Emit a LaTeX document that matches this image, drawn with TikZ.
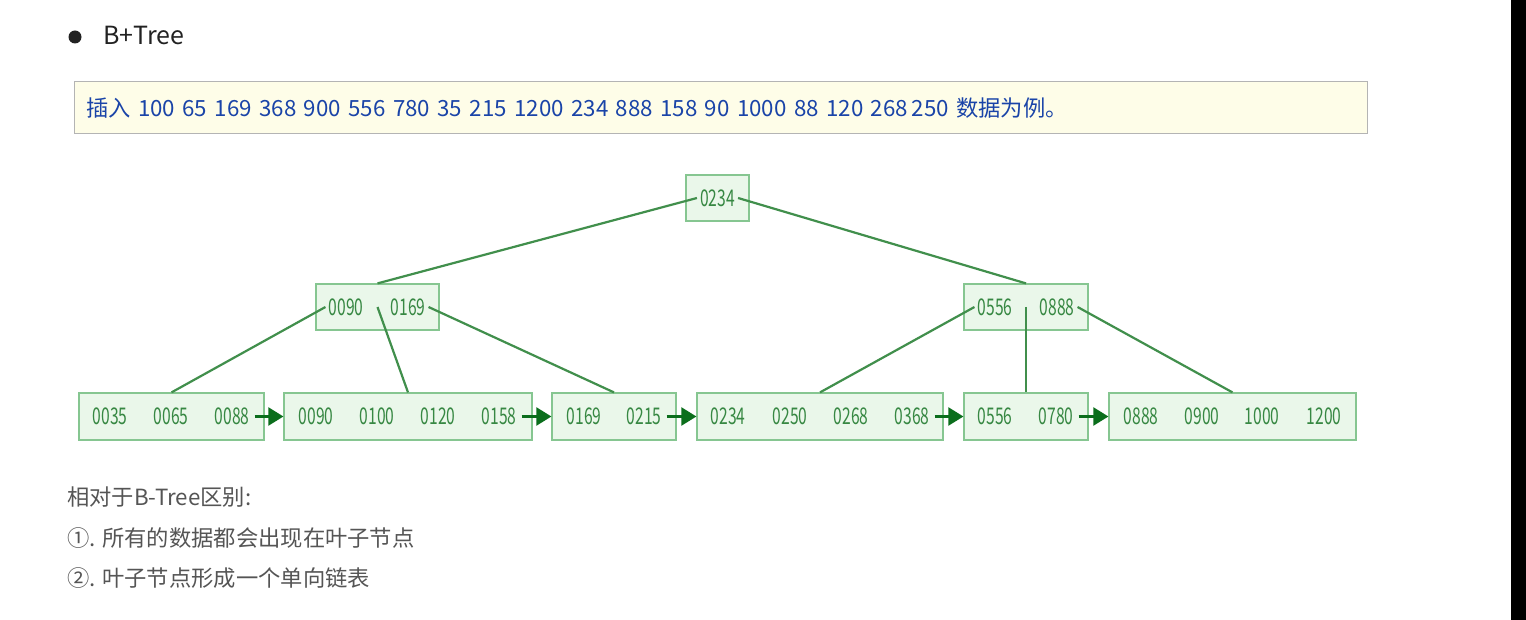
\documentclass[tikz,border=0pt]{standalone}
\usepackage{fontspec}
\setmainfont{Noto Sans CJK SC}
\newfontfamily\keyfont[FakeStretch=0.68]{Noto Sans CJK SC}
\usepackage{xcolor}
\usetikzlibrary{arrows.meta,positioning}
\definecolor{boxline}{HTML}{86C691}
\definecolor{boxfill}{HTML}{EAF7EA}
\definecolor{keygreen}{HTML}{378843}
\definecolor{edgegreen}{HTML}{418F4C}
\definecolor{linkgreen}{HTML}{0B6E1C}
\definecolor{notefill}{HTML}{FEFDE8}
\definecolor{noteline}{HTML}{B4B4B4}
\definecolor{noteblue}{HTML}{1A44A8}
\definecolor{remarkgray}{HTML}{555555}
\definecolor{titlegray}{HTML}{222222}
\tikzset{
    nodebox/.style={
        rectangle, draw=boxline, fill=boxfill, line width=1.2pt,
        minimum height=46pt, inner sep=0pt
    },
    keylabel/.style={
        font=\keyfont\fontsize{23}{23}\selectfont, text=keygreen, inner sep=3pt
    },
    notebox/.style={
        rectangle, draw=noteline, fill=notefill, line width=1pt,
        minimum height=52pt, text width=1269pt, inner xsep=12pt, align=left,
        font=\fontsize{22.3}{22.3}\selectfont, text=noteblue
    },
    remark/.style={
        anchor=west, inner sep=0pt, text=remarkgray,
        font=\fontsize{22.3}{22.3}\selectfont
    },
    treeline/.style={draw=edgegreen, line width=2.2pt},
    leaflink/.style={draw=linkgreen, line width=2.2pt, shorten <=2pt,
        -{Triangle[length=15pt,width=18pt]}}
}
\begin{document}
\begin{tikzpicture}[x=1pt,y=-1pt]
\useasboundingbox (0,0) rectangle (1526,620);
\fill[white] (0,0) rectangle (1526,620);
\fill[black] (1511,0) rectangle (1526,620);

% ---- heading ----
\node[circle, fill=titlegray, minimum size=13pt, inner sep=0pt] (dot) at (75,37) {};
\node[anchor=west, inner sep=0pt, text=titlegray,
      font=\fontsize{25}{25}\selectfont] (title) at (103,36) {B+Tree};

% ---- note ----
\node[notebox, anchor=north west] (note) at (73.5,81.5)
    {插入 100 65 169 368 900 556 780 35 215 1200 234 888 158 90 1000 88 120 268\,250 数据为例。};

% ---- root (y=198) ----
\node[nodebox, minimum width=63pt] (r) at (717.5,198) {};
\node[keylabel] (r1) at (717.5,198) {0234};

% ---- internal nodes (y=307) ----
\node[nodebox, minimum width=123pt] (i1) at (377.5,307) {};
\node[nodebox, minimum width=124pt] (i2) at (1026,307) {};
\node[keylabel] (i1a) at (346,307)  {0090};
\node[keylabel] (i1b) at (408,307)  {0169};
\node[keylabel] (i2a) at (995,307)  {0556};
\node[keylabel] (i2b) at (1057,307) {0888};

% ---- leaves (y=416.5) ----
\node[nodebox, minimum width=185pt, minimum height=47pt] (l1) at (171.5,416.5) {};
\node[nodebox, minimum width=248pt, minimum height=47pt] (l2) at (408,416.5)   {};
\node[nodebox, minimum width=124pt, minimum height=47pt] (l3) at (614,416.5)   {};
\node[nodebox, minimum width=246pt, minimum height=47pt] (l4) at (820,416.5)   {};
\node[nodebox, minimum width=124pt, minimum height=47pt] (l5) at (1026,416.5)  {};
\node[nodebox, minimum width=247pt, minimum height=47pt] (l6) at (1232.5,416.5) {};
\foreach \k/\x in {0035/110, 0065/171, 0088/232, 0090/316, 0100/377, 0120/438,
                   0158/499, 0169/584, 0215/644, 0234/728, 0250/790, 0268/851,
                   0368/912, 0556/995, 0780/1056, 0888/1141, 0900/1202,
                   1000/1262, 1200/1324}
    \node[keylabel] (k\k) at (\x,416.5) {\k};

% root -> internal
\draw[treeline] (r1.west) -- (i1.north);
\draw[treeline] (r1.east) -- (i2.north);

% internal -> leaves
\draw[treeline] (i1a.west) -- (l1.north);
\draw[treeline] (i1.center) -- (l2.north);
\draw[treeline] (i1b.east) -- (l3.north);
\draw[treeline] (i2a.west) -- (l4.north);
\draw[treeline] (i2.center) -- (l5.north);
\draw[treeline] (i2b.east) -- (l6.north);

% leaf chain
\draw[leaflink] (k0088.east) -- (l2.west);
\draw[leaflink] (k0158.east) -- (l3.west);
\draw[leaflink] (k0215.east) -- (l4.west);
\draw[leaflink] (k0368.east) -- (l5.west);
\draw[leaflink] (k0780.east) -- (l6.west);

% ---- remarks ----
\node[remark] (rm1) at (67,497) {相对于B-Tree区别:};
\node[remark] (rm2) at (67,538) {①. 所有的数据都会出现在叶子节点};
\node[remark] (rm3) at (67,578) {②. 叶子节点形成一个单向链表};

\end{tikzpicture}
\end{document}
